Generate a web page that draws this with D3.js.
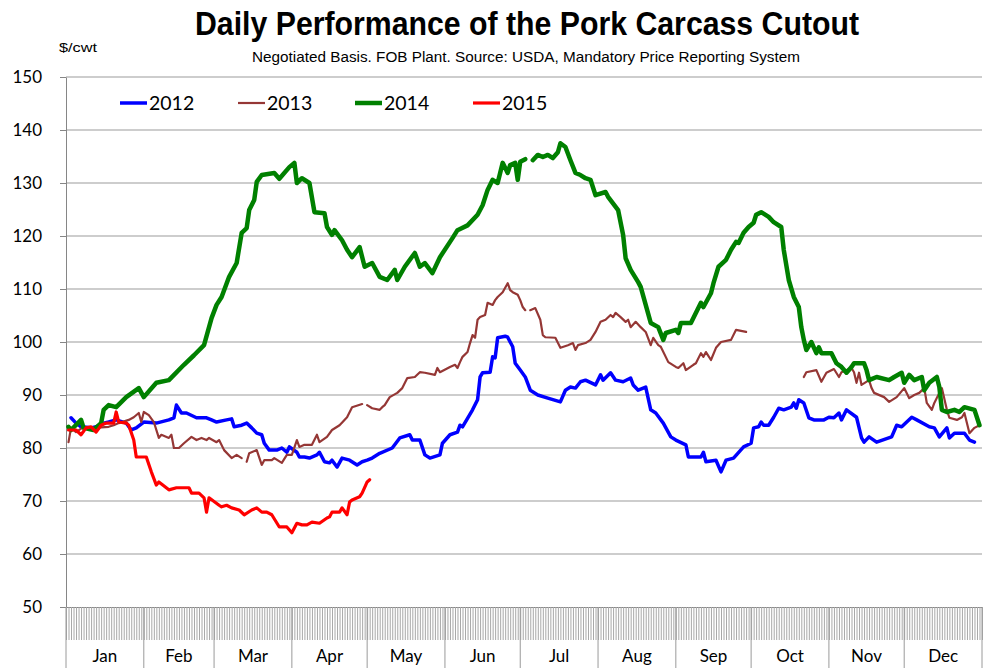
<!DOCTYPE html>
<html lang="en">
  <head>
    <meta charset="UTF-8" />
    <title>Daily Performance of the Pork Carcass Cutout</title>
    <style>
      body {
        margin: 0;
        background: #fff;
      }
      text {
        font-family: Lato, "Open Sans", sans-serif;
        fill: #000;
      }
      .narrow {
        font-family: "Liberation Sans Narrow", "Arial Narrow", "Liberation Sans", Arial, sans-serif;
      }
    </style>
  </head>

  <body>
    <div class="container"></div>

    <script src="https://d3js.org/d3.v7.min.js"></script>
    <script>
      // data: [day of year (Jan 1 = 0), $/cwt], null = no report
      const months = ["Jan", "Feb", "Mar", "Apr", "May", "Jun", "Jul", "Aug", "Sep", "Oct", "Nov", "Dec"];
      const monthStart = [0, 31, 59, 90, 120, 151, 181, 212, 243, 273, 304, 334, 365];
      const yTicks = [50, 60, 70, 80, 90, 100, 110, 120, 130, 140, 150];
      const years = ["2012", "2013", "2014", "2015"];
      const colors = ["#0000ff", "#953735", "#008000", "#ff0000"];
      const widths = [3.5, 2.2, 4.5, 3.2];

      const cut2012 = [
        [2, 85.7], [4, 84.7], [6, 84.0], [10, 83.8], [12, 84.0], [15, 84.7], [17, 84.9], [20, 85.3],
        [24, 84.7], [26, 83.4], [28, 83.8], [31, 84.9], [36, 84.7], [41, 85.3], [43, 85.7], [44, 88.1],
        [46, 86.6], [48, 86.6], [52, 85.7], [56, 85.7], [58, 85.3], [60, 84.9], [64, 85.3], [66, 85.5],
        [67, 84.0], [70, 84.3], [72, 84.7], [74, 83.8], [76, 82.8], [78, 82.5], [79, 80.9], [81, 79.6],
        [84, 79.6], [86, 80.0], [88, 79.2], [89, 80.2], [92, 79.2], [93, 78.3], [95, 78.3], [97, 78.1],
        [100, 78.7], [101, 79.2], [103, 77.4], [105, 77.2], [106, 77.7], [108, 76.4], [110, 78.1], [113, 77.7],
        [116, 76.8], [118, 77.4], [120, 77.7], [122, 78.1], [125, 79.0], [130, 80.0], [133, 81.9], [137, 82.5],
        [138, 81.5], [141, 81.5], [143, 78.7], [145, 78.1], [149, 78.7], [150, 80.9], [153, 82.5], [156, 83.0],
        [157, 84.3], [158, 84.0], [162, 87.2], [164, 89.1], [165, 93.4], [166, 94.2], [169, 94.3], [170, 97.2],
        [171, 97.0], [172, 100.8], [175, 101.1], [176, 100.9], [178, 99.1], [179, 96.0], [181, 94.7], [183, 93.4],
        [185, 90.9], [188, 90.0], [192, 89.4], [197, 88.7], [199, 90.9], [201, 91.5], [203, 91.3], [205, 92.5],
        [207, 92.8], [211, 91.9], [213, 93.8], [214, 92.8], [217, 94.2], [219, 92.8], [222, 92.5], [225, 93.2],
        [226, 91.9], [228, 90.9], [231, 91.5], [233, 87.2], [235, 86.6], [238, 84.7], [241, 82.1], [243, 81.5],
        [247, 80.6], [248, 78.3], [250, 78.3], [253, 78.3], [254, 79.2], [255, 77.4], [259, 77.7], [261, 75.5],
        [263, 77.7], [266, 78.1], [270, 80.2], [273, 80.9], [274, 83.8], [276, 84.0], [277, 84.9], [278, 84.3],
        [280, 84.3], [282, 85.8], [284, 87.5], [286, 87.2], [289, 87.7], [290, 88.5], [291, 87.5], [292, 89.1],
        [294, 88.5], [296, 85.7], [298, 85.3], [302, 85.3], [304, 85.8], [306, 85.7], [308, 86.6], [309, 85.3],
        [311, 87.2], [315, 85.8], [317, 81.9], [318, 81.1], [320, 82.1], [323, 81.1], [329, 82.1], [331, 84.3],
        [333, 84.0], [337, 85.8], [339, 85.3], [344, 84.0], [346, 83.8], [348, 82.1], [351, 83.8], [352, 81.9],
        [354, 82.8], [358, 82.8], [360, 81.5], [362, 81.1]
      ];

      const cut2013 = [
        [1, 81.1], [2, 83.8], [4, 83.0], [7, 84.0], [11, 83.8], [17, 84.0], [19, 84.3], [21, 84.7],
        [25, 85.3], [27, 85.8], [29, 86.6], [30, 84.9], [31, 86.8], [33, 86.2], [35, 84.9], [37, 81.9],
        [38, 82.5], [41, 81.9], [42, 82.5], [43, 80.0], [45, 80.0], [47, 80.9], [50, 82.1], [52, 81.5],
        [54, 81.9], [56, 81.5], [57, 81.9], [60, 81.1], [61, 81.5], [63, 79.6], [66, 78.1], [68, 78.7],
        [70, 78.1], [71, null], [72, 77.4], [73, 79.0], [76, 79.6], [78, 76.8], [79, 77.7], [82, 77.7],
        [83, 78.1], [86, 77.2], [88, 78.7], [90, 78.7], [92, 81.5], [93, 80.2], [95, 80.6], [98, 80.6],
        [100, 82.5], [101, 81.1], [104, 82.1], [106, 83.4], [109, 84.3], [112, 85.8], [114, 87.7], [118, 88.3],
        [119, null], [120, 88.1], [122, 87.5], [125, 87.2], [126, 87.7], [127, 88.1], [129, 89.6], [132, 90.4],
        [134, 91.3], [136, 93.2], [139, 93.4], [141, 94.3], [143, 94.2], [147, 93.8], [148, 95.1], [149, 94.3],
        [153, 95.3], [155, 95.7], [156, 95.1], [157, 96.2], [158, 97.2], [160, 98.1], [161, 99.8], [162, 101.3],
        [163, 100.8], [164, 104.2], [165, 104.7], [167, 105.1], [168, 107.4], [170, 107.0], [171, 107.9], [172, 108.5],
        [174, 109.4], [176, 111.1], [177, 109.8], [178, 109.4], [180, 108.9], [181, 107.9], [182, 106.6], [183, 106.0],
        [184, null], [185, 106.0], [187, 106.4], [189, 104.2], [190, 101.3], [191, 100.9], [195, 100.8], [197, 98.9],
        [200, 99.4], [202, 99.8], [203, 98.5], [204, 99.4], [207, 99.8], [209, 100.4], [211, 101.9], [213, 103.8],
        [215, 104.2], [217, 105.1], [218, 104.7], [219, 105.5], [221, 104.7], [223, 103.8], [224, 104.2], [225, 102.8],
        [227, 103.8], [229, 102.8], [231, 101.9], [233, 99.4], [234, 100.8], [236, 99.4], [237, 99.1], [240, 96.2],
        [243, 95.3], [244, 95.1], [246, 96.0], [247, 94.7], [250, 95.7], [251, 96.0], [253, 97.9], [254, 97.2],
        [255, 98.1], [257, 96.6], [259, 98.9], [261, 100.0], [265, 100.4], [267, 102.3], [271, 101.9], [272, null],
        [294, 93.4], [295, 94.3], [299, 94.7], [301, 92.5], [303, 94.2], [306, 94.9], [308, 93.4], [309, 94.3],
        [313, 95.1], [314, 94.3], [315, 92.3], [316, 94.2], [317, 91.9], [320, 92.8], [321, 91.3], [322, 90.4],
        [326, 89.6], [328, 88.7], [331, 89.6], [334, 91.3], [336, 89.4], [338, 90.0], [340, 90.4], [342, 91.3],
        [343, 88.5], [345, 87.2], [346, 88.5], [348, 90.4], [349, 91.3], [351, 87.2], [352, 85.7], [355, 85.3],
        [357, 85.8], [358, 86.6], [360, 82.8], [362, 83.8], [364, 84.3]
      ];

      const cut2014 = [
        [1, 84.0], [2, 83.4], [6, 85.3], [7, 83.8], [11, 83.4], [14, 84.7], [15, 87.2], [17, 88.1],
        [20, 87.7], [24, 89.6], [29, 91.3], [31, 89.6], [36, 92.3], [41, 92.8], [47, 95.7], [51, 97.5],
        [55, 99.4], [58, 104.5], [60, 107.0], [62, 108.5], [65, 112.3], [68, 114.9], [70, 120.6], [72, 121.5],
        [73, 124.9], [75, 126.8], [76, 130.2], [78, 131.5], [83, 131.9], [85, 130.8], [89, 133.0], [91, 133.8],
        [92, 130.0], [94, 130.9], [97, 130.0], [99, 124.5], [103, 124.3], [104, 121.7], [106, 120.2], [107, 121.1],
        [110, 119.2], [112, 117.4], [114, 116.0], [117, 117.9], [119, 114.2], [122, 114.9], [125, 112.3], [128, 111.7],
        [131, 113.6], [132, 111.7], [135, 114.2], [139, 116.8], [141, 114.2], [143, 114.9], [146, 113.0], [149, 116.0],
        [154, 119.6], [156, 121.1], [160, 122.0], [164, 124.0], [166, 125.8], [168, 128.7], [170, 130.6], [172, 130.0],
        [174, 133.8], [176, 131.9], [177, 133.4], [179, 133.8], [180, 130.6], [181, 134.0], [183, 134.5], [184, null],
        [186, 134.3], [188, 135.3], [190, 134.9], [192, 135.3], [194, 134.7], [196, 135.8], [197, 137.5], [199, 136.8],
        [201, 134.3], [203, 131.9], [205, 131.5], [207, 130.9], [209, 130.6], [211, 127.7], [215, 128.3], [216, 127.4],
        [220, 124.9], [222, 120.2], [223, 115.8], [225, 113.6], [228, 111.3], [229, 110.4], [233, 103.6], [236, 102.8],
        [238, 100.4], [239, 101.7], [243, 102.3], [244, 101.7], [245, 103.6], [249, 103.6], [253, 107.4], [254, 106.6],
        [257, 109.2], [258, 111.1], [260, 114.2], [263, 115.5], [265, 117.4], [267, 118.9], [268, 118.7], [270, 120.6],
        [272, 121.7], [274, 122.5], [275, 124.0], [277, 124.5], [280, 123.6], [282, 122.6], [285, 121.7], [286, 117.4],
        [288, 111.7], [290, 108.5], [292, 106.6], [293, 102.8], [294, 100.4], [295, 98.5], [297, 100.0], [299, 97.9],
        [300, 99.0], [301, 97.9], [305, 97.9], [307, 96.0], [309, 95.3], [311, 94.2], [313, 95.3], [314, 96.0],
        [318, 96.0], [319, 94.7], [320, 92.8], [323, 93.4], [328, 92.8], [330, 93.4], [333, 94.2], [334, 92.3],
        [336, 93.8], [338, 92.8], [341, 93.4], [342, 90.9], [344, 92.3], [347, 93.4], [348, 91.5], [349, 87.2],
        [351, 86.8], [354, 87.2], [356, 86.8], [358, 87.7], [362, 87.2], [364, 84.3]
      ];

      const cut2015 = [
        [1, 83.4], [4, 83.4], [6, 82.5], [8, 83.8], [10, 84.0], [12, 83.0], [14, 84.3], [16, 84.7],
        [19, 84.7], [20, 86.8], [21, 84.9], [24, 84.7], [25, 84.3], [27, 81.5], [28, 78.3], [32, 78.3],
        [34, 75.5], [36, 73.0], [37, 73.6], [41, 72.1], [44, 72.5], [49, 72.5], [50, 71.5], [53, 71.5],
        [55, 70.6], [56, 67.9], [57, 70.6], [61, 69.2], [62, 68.9], [64, 69.2], [66, 68.7], [69, 68.3],
        [71, 67.4], [74, 68.3], [76, 68.7], [78, 67.9], [80, 67.9], [82, 67.4], [85, 65.1], [88, 65.1],
        [90, 64.0], [92, 65.8], [94, 65.5], [96, 65.5], [98, 66.0], [101, 65.8], [104, 66.8], [105, 67.0],
        [106, 67.9], [109, 67.9], [110, 68.7], [112, 67.4], [113, 69.8], [114, 70.2], [117, 70.8], [118, 71.5],
        [120, 73.6], [121, 74.0]
      ];

      const series = [cut2012, cut2013, cut2014, cut2015];

      // svg
      const W = 985, H = 668;
      const svg = d3.select(".container").append("svg").attr("width", W).attr("height", H);

      const scX = d3.scaleLinear().domain([0, 365]).range([66, 982]);
      const scY = d3.scaleLinear().domain([50, 150]).range([607, 77]);

      // 標題
      svg.append("text")
        .attr("class", "narrow")
        .attr("x", 527).attr("y", 35)
        .attr("text-anchor", "middle")
        .attr("font-size", 33).attr("font-weight", "bold")
        .attr("textLength", 664).attr("lengthAdjust", "spacingAndGlyphs")
        .text("Daily Performance of the Pork Carcass Cutout");

      svg.append("text")
        .attr("class", "narrow")
        .attr("x", 526).attr("y", 62)
        .attr("text-anchor", "middle")
        .attr("font-size", 14)
        .attr("textLength", 548).attr("lengthAdjust", "spacingAndGlyphs")
        .text("Negotiated Basis.  FOB Plant.  Source: USDA, Mandatory Price Reporting System");

      svg.append("text")
        .attr("class", "narrow")
        .attr("x", 59).attr("y", 52)
        .attr("font-size", 13)
        .attr("textLength", 38).attr("lengthAdjust", "spacingAndGlyphs")
        .text("$/cwt");

      // 格線
      svg.append("g")
        .selectAll("line")
        .data(yTicks.slice(1))
        .join("line")
        .attr("x1", scX(0)).attr("x2", scX(365))
        .attr("y1", d => scY(d)).attr("y2", d => scY(d))
        .attr("stroke", "#bdbdbd").attr("stroke-width", 1.6);

      // Y軸
      const yAxis = svg.append("g")
        .attr("transform", `translate(${scX(0)},0)`)
        .call(d3.axisLeft(scY).tickValues(yTicks).tickSize(6).tickSizeOuter(0).tickPadding(18).tickFormat(d3.format("d")));
      yAxis.select(".domain").attr("stroke", "#868686");
      yAxis.selectAll(".tick line").attr("stroke", "#868686");
      yAxis.selectAll(".tick text")
        .attr("font-family", "Lato, 'Open Sans', sans-serif")
        .attr("font-size", 17).attr("fill", "#000");

      // X軸: 每日刻度
      const xAxis = svg.append("g")
        .attr("transform", `translate(0,${scY(50)})`)
        .call(d3.axisBottom(scX).tickValues(d3.range(0, 366)).tickSize(33).tickSizeOuter(0).tickFormat(""));
      xAxis.select(".domain").attr("stroke", "#868686");
      xAxis.selectAll(".tick line").attr("stroke", "#a8a8a8").attr("stroke-width", 1);

      // 月份分隔線與標籤
      svg.append("g")
        .selectAll("line")
        .data(monthStart)
        .join("line")
        .attr("x1", d => scX(d)).attr("x2", d => scX(d))
        .attr("y1", scY(50)).attr("y2", H)
        .attr("stroke", "#9a9a9a").attr("stroke-width", 1);

      svg.append("g")
        .selectAll("text")
        .data(months)
        .join("text")
        .attr("x", (d, i) => (scX(monthStart[i]) + scX(monthStart[i + 1])) / 2)
        .attr("y", 662)
        .attr("text-anchor", "middle")
        .attr("font-size", 17)
        .text(d => d);

      // 折線
      const line = d3.line()
        .defined(d => d[1] !== null)
        .x(d => scX(d[0]))
        .y(d => scY(d[1]));

      svg.append("g")
        .selectAll("path")
        .data(series)
        .join("path")
        .attr("d", d => line(d))
        .attr("fill", "none")
        .attr("stroke", (d, i) => colors[i])
        .attr("stroke-width", (d, i) => widths[i])
        .attr("stroke-linejoin", "round")
        .attr("stroke-linecap", "round");

      // 圖例
      const legX = [120, 238, 355, 473];
      const leg = svg.append("g")
        .selectAll("g")
        .data(years)
        .join("g")
        .attr("transform", (d, i) => `translate(${legX[i]},103)`);
      leg.append("line")
        .attr("x1", 0).attr("x2", 27)
        .attr("stroke", (d, i) => colors[i])
        .attr("stroke-width", (d, i) => widths[i]);
      leg.append("text")
        .attr("x", 29).attr("y", 7)
        .attr("font-size", 19.5)
        .text(d => d);
    </script>
  </body>
</html>
